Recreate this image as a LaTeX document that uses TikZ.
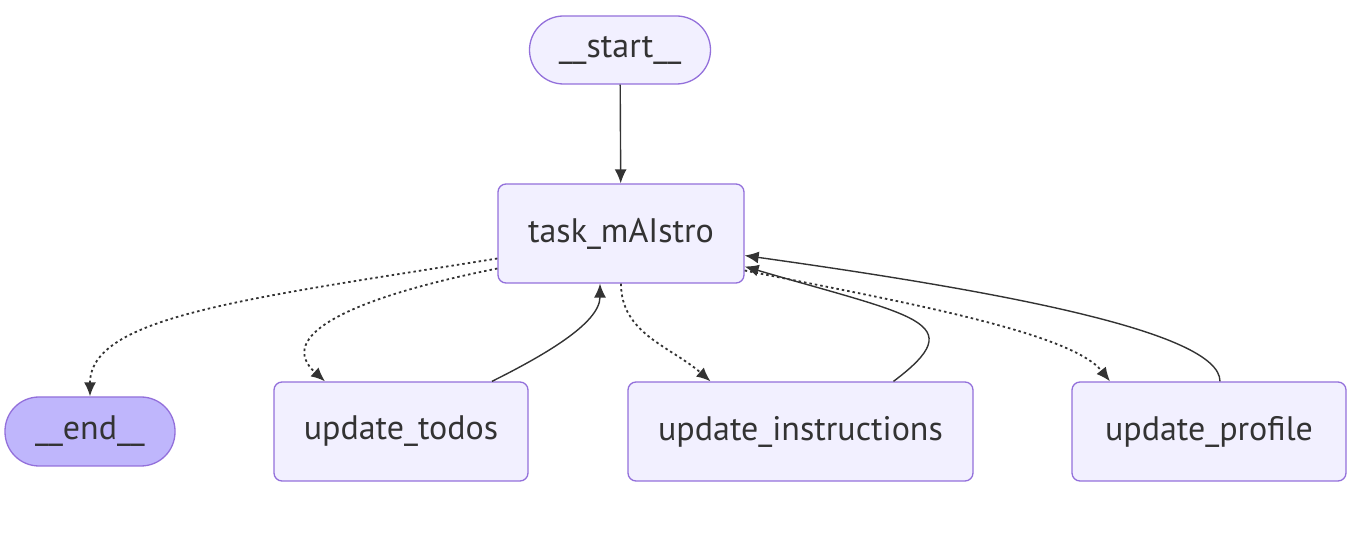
\documentclass[tikz,border=0pt]{standalone}
\usepackage{fontspec}
\setmainfont{PT Sans}
\usetikzlibrary{arrows.meta}
\definecolor{nodefill}{HTML}{F2F0FF}
\definecolor{nodeline}{HTML}{9370DB}
\definecolor{endfill}{HTML}{BFB6FC}
\definecolor{edgecol}{HTML}{333333}
\begin{document}
\begin{tikzpicture}[x=1pt,y=-1pt,
    box/.style={draw=nodeline,fill=nodefill,line width=1.3pt,rounded corners=8pt,
      minimum height=99pt,inner sep=0pt,text=edgecol,font=\fontsize{34}{40}\selectfont},
    pill/.style={box,rounded corners=34pt,minimum height=68pt},
    link/.style={draw=edgecol,line width=1.4pt,-{Latex[length=14pt,width=12pt]}},
    maybe/.style={link,line width=1.8pt,dash pattern=on 2.5pt off 3pt}]
    \useasboundingbox (0,0) rectangle (1366,534);
    % Noeuds
    \node[pill,minimum width=181pt] (start) at (620,50) {\_\_start\_\_};
    \node[box,minimum width=246pt] (task) at (621,233.5) {task\_mAIstro};
    \node[pill,fill=endfill,minimum width=170pt,minimum height=69pt] (end) at (90,431.5) {\_\_end\_\_};
    \node[box,minimum width=254pt] (todos) at (401,431.5) {update\_todos};
    \node[box,minimum width=345pt] (instr) at (800.5,431.5) {update\_instructions};
    \node[box,minimum width=274pt] (profile) at (1209,431.5) {update\_profile};
    % Aretes
    \draw[link] (start) -- (task);
    \draw[maybe] ([yshift=-25pt]task.west) .. controls +(-250,40) and +(0,-80) .. (end.north);
    \draw[maybe] ([yshift=-35pt]task.west) .. controls +(-150,30) and +(-50,-45) .. ([xshift=-76pt]todos.north);
    \draw[link] ([xshift=91pt]todos.north) .. controls +(50,-25) and +(0,40) .. ([xshift=-21pt]task.south);
    \draw[maybe] (task.south) .. controls +(0,50) and +(-40,-35) .. ([xshift=-90pt]instr.north);
    \draw[link] ([xshift=93pt]instr.north) .. controls +(80,-60) and +(170,50) .. ([yshift=-33pt]task.east);
    \draw[maybe] ([yshift=-37pt]task.east) .. controls +(150,30) and +(-40,-50) .. ([xshift=-99pt]profile.north);
    \draw[link] ([xshift=11pt]profile.north) .. controls +(0,-50) and +(250,35) .. ([yshift=-22pt]task.east);
\end{tikzpicture}
\end{document}
